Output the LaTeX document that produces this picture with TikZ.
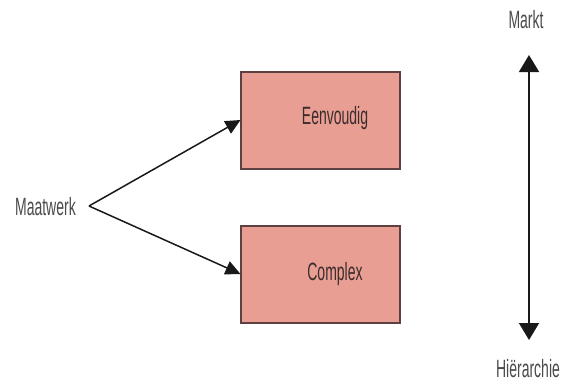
\documentclass[tikz,border=0pt]{standalone}
\usepackage{fontspec}
\setmainfont{Liberation Sans}[FakeStretch=0.56]
\usetikzlibrary{arrows.meta}
\definecolor{boxfill}{HTML}{E89E93}
\definecolor{boxline}{HTML}{5E4040}
\definecolor{lbl}{HTML}{4A4A4A}
\definecolor{inlbl}{HTML}{3B2C2C}
\tikzset{
  box/.style={draw=boxline, line width=1.1pt, fill=boxfill, minimum width=159pt, minimum height=97pt, inner sep=0pt},
  lab/.style={text=lbl, font=\fontsize{25}{28}\selectfont, inner sep=0pt},
  inlab/.style={text=inlbl, font=\fontsize{25}{28}\selectfont, inner sep=0pt},
  conn/.style={line width=1.5pt, black!90, -{Triangle[width=14pt,length=15pt]}},
  bigconn/.style={line width=1.6pt, black!90, {Triangle[width=20pt,length=17pt]}-{Triangle[width=20pt,length=17pt]}}
}
\begin{document}
\begin{tikzpicture}[x=1pt,y=-1pt]
\useasboundingbox (0,0) rectangle (561,383);
\node[box] (eenv) at (320.5,120.5) {};
\node[box] (compl) at (320.5,274.5) {};
\node[inlab] (teenv) at (335,118) {Eenvoudig};
\node[inlab] (tcompl) at (335,274) {Complex};
\node[lab, anchor=east] (maat) at (76,207) {Maatwerk};
\coordinate (apex) at (89,206);
\coordinate (up) at (240.5,120);
\coordinate (dn) at (240.5,274);
\draw[conn] (apex) -- (up);
\draw[conn] (apex) -- (dn);
\node[lab] (markt) at (526,20) {Markt};
\node[lab] (hier) at (528,369) {Hiërarchie};
\coordinate (atop) at (529,55);
\coordinate (abot) at (529,340);
\draw[bigconn] (atop) -- (abot);
\end{tikzpicture}
\end{document}
